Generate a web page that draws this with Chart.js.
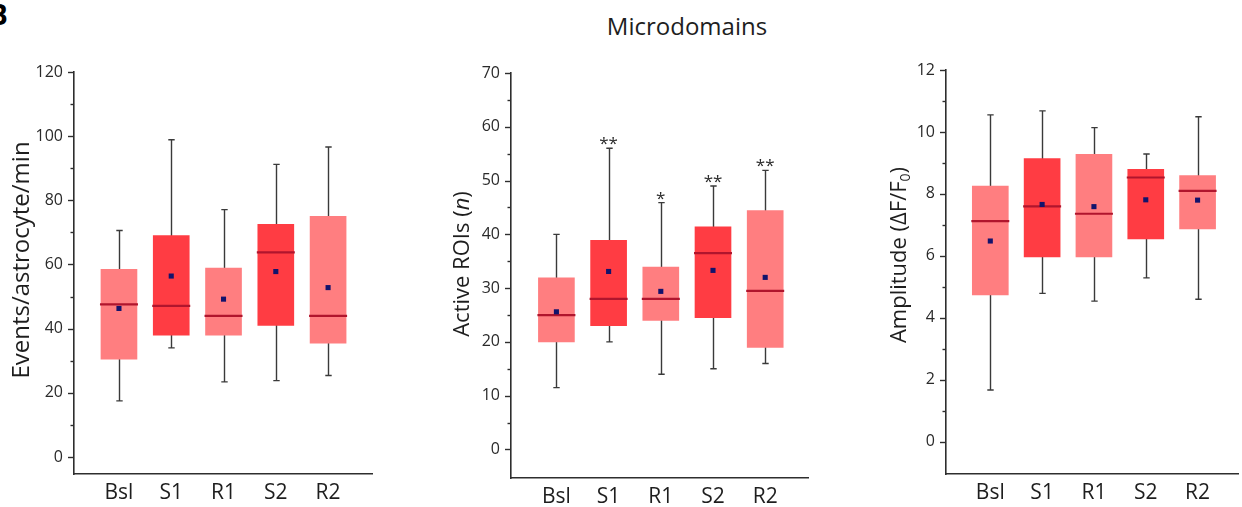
<!DOCTYPE html>
<html>
<head>
<meta charset="utf-8">
<script src="https://cdn.jsdelivr.net/npm/chart.js@4.4.1/dist/chart.umd.min.js"></script>
<style>
  html, body { margin:0; padding:0; background:#fff; width:1242px; height:507px; overflow:hidden; position:relative; font-family:'Open Sans', sans-serif; }
  .panel { position:absolute; }
  #figTitle { position:absolute; left:487px; width:400px; top:14px; text-align:center; font-size:24px; line-height:24px; color:#1e1e1e; }
  #letter { position:absolute; left:-11px; top:0px; font-weight:bold; font-size:28px; line-height:28px; color:#000; }
</style>
</head>
<body>
<div id="letter">B</div>
<div id="figTitle">Microdomains</div>
<div class="panel" style="left:0px;top:40px;width:380px;height:467px"><canvas id="c1" width="380" height="467"></canvas></div>
<div class="panel" style="left:420px;top:40px;width:395px;height:467px"><canvas id="c2" width="395" height="467"></canvas></div>
<div class="panel" style="left:830px;top:40px;width:412px;height:467px"><canvas id="c3" width="412" height="467"></canvas></div>
<script>
// ---------- data ----------
const categories = ['Bsl', 'S1', 'R1', 'S2', 'R2'];

// Panel 1: Events/astrocyte/min
const eventsWhiskerLow  = [17.5, 34.0, 23.4, 23.8, 25.4];
const eventsQ1          = [30.5, 38.0, 38.0, 41.0, 35.5];
const eventsMedian      = [47.6, 47.1, 44.0, 63.8, 44.0];
const eventsQ3          = [58.5, 69.0, 58.9, 72.5, 75.0];
const eventsWhiskerHigh = [70.6, 98.9, 77.1, 91.2, 96.6];
const eventsMean        = [46.3, 56.4, 49.2, 57.8, 52.8];
const eventsTicks       = [0, 20, 40, 60, 80, 100, 120];

// Panel 2: Active ROIs (n)
const roisWhiskerLow  = [11.5, 20.0, 14.0, 15.0, 16.0];
const roisQ1          = [20.0, 23.0, 24.0, 24.5, 19.0];
const roisMedian      = [25.0, 28.0, 28.0, 36.5, 29.5];
const roisQ3          = [31.9, 38.9, 33.9, 41.4, 44.4];
const roisWhiskerHigh = [40.0, 56.0, 45.9, 49.0, 51.9];
const roisMean        = [25.6, 33.1, 29.4, 33.3, 32.0];
const roisSignificance = ['', '**', '*', '**', '**'];
const roisTicks       = [0, 10, 20, 30, 40, 50, 60, 70];

// Panel 3: Amplitude (dF/F0)
const ampWhiskerLow  = [1.67, 4.79, 4.54, 5.29, 4.60];
const ampQ1          = [4.74, 5.97, 5.97, 6.55, 6.87];
const ampMedian      = [7.12, 7.60, 7.36, 8.53, 8.10];
const ampQ3          = [8.25, 9.14, 9.28, 8.79, 8.59];
const ampWhiskerHigh = [10.55, 10.68, 10.14, 9.29, 10.49];
const ampMean        = [6.48, 7.66, 7.59, 7.81, 7.80];
const ampTicks       = [0, 2, 4, 6, 8, 10, 12];

// ---------- styles ----------
const LIGHT = '#FF7E80', DARK = '#FF3C43';
const boxColors = [LIGHT, DARK, LIGHT, DARK, LIGHT];
const MEDIAN_COLOR = '#B0152D';
const MEAN_COLOR = '#13136C';
const AXIS_COLOR = '#2e2e2e';
const FONT = "'Open Sans', sans-serif";

function boxPlugin(p) {
  return {
    id: 'boxExtras',
    beforeDatasetsDraw(chart) {
      const { ctx, scales: { x, y } } = chart;
      ctx.save();
      ctx.strokeStyle = '#3a3a3a';
      ctx.lineWidth = 1.4;
      categories.forEach((c, i) => {
        const px = Math.round(x.getPixelForValue(i)) + 0.5;
        const yLo = y.getPixelForValue(p.low[i]);
        const yHi = y.getPixelForValue(p.high[i]);
        ctx.beginPath();
        ctx.moveTo(px, yHi); ctx.lineTo(px, yLo);
        ctx.moveTo(px - 3.2, yHi); ctx.lineTo(px + 3.2, yHi);
        ctx.moveTo(px - 3.2, yLo); ctx.lineTo(px + 3.2, yLo);
        ctx.stroke();
      });
      ctx.restore();
    },
    afterDatasetDraw(chart, args) {
      if (args.meta.type !== 'bar') return;
      const { ctx, scales: { y } } = chart;
      ctx.save();
      ctx.strokeStyle = MEDIAN_COLOR;
      ctx.lineWidth = 2.2;
      args.meta.data.forEach((bar, i) => {
        const py = y.getPixelForValue(p.median[i]);
        ctx.beginPath();
        ctx.moveTo(bar.x - bar.width / 2 - 1, py);
        ctx.lineTo(bar.x + bar.width / 2 + 1, py);
        ctx.stroke();
      });
      ctx.restore();
    },
    afterDraw(chart) {
      const { ctx, chartArea, scales: { x, y } } = chart;
      ctx.save();
      // major + minor ticks on y axis
      ctx.strokeStyle = AXIS_COLOR;
      ctx.lineWidth = 1.4;
      const left = chartArea.left;
      const lo = p.ticks[0], hi = p.ticks[p.ticks.length - 1];
      const minorStep = (p.ticks[1] - p.ticks[0]) / 2;
      for (let k = 0; lo + k * minorStep <= hi + 1e-9; k++) {
        const v = lo + k * minorStep;
        const py = Math.round(y.getPixelForValue(v)) + 0.5;
        const len = (k % 2 === 0) ? 6 : 3.5;
        ctx.beginPath();
        ctx.moveTo(left - len, py); ctx.lineTo(left, py);
        ctx.stroke();
      }
      // significance stars
      if (p.sig) {
        ctx.fillStyle = '#2a2a2a';
        ctx.font = '17px ' + FONT;
        ctx.textAlign = 'center';
        ctx.textBaseline = 'alphabetic';
        p.sig.forEach((s, i) => {
          if (!s) return;
          ctx.fillText(s, x.getPixelForValue(i), y.getPixelForValue(p.high[i]) + 1);
        });
      }
      // rotated y-axis title with rich segments
      ctx.translate(p.titlePos[0], p.titlePos[1]);
      ctx.rotate(-Math.PI / 2);
      ctx.fillStyle = '#1e1e1e';
      ctx.textBaseline = 'middle';
      ctx.textAlign = 'left';
      const fontFor = seg => (seg.italic ? 'italic ' : '') + (seg.sub ? Math.round(p.titleSize * 0.62) : p.titleSize) + 'px ' + FONT;
      let total = 0;
      p.title.forEach(seg => { ctx.font = fontFor(seg); total += ctx.measureText(seg.t).width; });
      let cx = -total / 2;
      p.title.forEach(seg => {
        ctx.font = fontFor(seg);
        ctx.fillText(seg.t, cx, seg.sub ? p.titleSize * 0.28 : 0);
        cx += ctx.measureText(seg.t).width;
      });
      ctx.restore();
    }
  };
}

function makePanel(id, p) {
  const ctx = document.getElementById(id).getContext('2d');
  return new Chart(ctx, {
    type: 'bar',
    data: {
      datasets: [
        {
          type: 'scatter',
          label: 'Mean',
          data: categories.map((c, i) => ({ x: i, y: p.mean[i] })),
          pointStyle: 'rect',
          pointRadius: 3.6,
          backgroundColor: MEAN_COLOR,
          borderColor: MEAN_COLOR,
          borderWidth: 0
        },
        {
          type: 'bar',
          label: 'IQR',
          data: categories.map((c, i) => ({ x: i, y: [p.q1[i], p.q3[i]] })),
          backgroundColor: boxColors,
          borderWidth: 0,
          barThickness: 36
        }
      ]
    },
    options: {
      responsive: false,
      animation: false,
      devicePixelRatio: 1,
      layout: { padding: { top: p.padTop, right: p.padRight, left: 0, bottom: 0 } },
      plugins: { legend: { display: false }, tooltip: { enabled: false }, title: { display: false } },
      scales: {
        x: {
          type: 'linear',
          min: p.xMin, max: p.xMax,
          offset: false,
          grid: { display: false, drawTicks: false },
          border: { display: true, color: AXIS_COLOR, width: 1.6 },
          ticks: {
            font: { family: FONT, size: 21 }, color: '#1e1e1e', padding: 6,
            autoSkip: false, maxRotation: 0,
            callback: v => categories[v]
          },
          afterBuildTicks: s => { s.ticks = categories.map((c, i) => ({ value: i })); },
          afterFit: s => { s.height = p.xAxisH; }
        },
        y: {
          type: 'linear',
          min: p.yMin, max: p.yMax,
          grid: { display: false, drawTicks: false },
          border: { display: true, color: AXIS_COLOR, width: 1.6 },
          ticks: { font: { family: FONT, size: 16 }, color: '#2a2a2a', padding: 11 },
          afterBuildTicks: s => { s.ticks = p.ticks.map(v => ({ value: v })); },
          afterFit: s => { s.width = p.yAxisW; }
        }
      }
    },
    plugins: [boxPlugin(p)]
  });
}

makePanel('c1', {
  low: eventsWhiskerLow, q1: eventsQ1, median: eventsMedian, q3: eventsQ3, high: eventsWhiskerHigh, mean: eventsMean,
  ticks: eventsTicks, yMin: -5.3, yMax: 120, xMin: -0.86, xMax: 4.84,
  yAxisW: 74, padTop: 32, padRight: 8, xAxisH: 33,
  title: [{ t: 'Events/astrocyte/min' }], titleSize: 24, titlePos: [22, 220]
});
makePanel('c2', {
  low: roisWhiskerLow, q1: roisQ1, median: roisMedian, q3: roisQ3, high: roisWhiskerHigh, mean: roisMean,
  sig: roisSignificance,
  ticks: roisTicks, yMin: -5.3, yMax: 70, xMin: -0.87, xMax: 4.82,
  yAxisW: 91, padTop: 33, padRight: 7, xAxisH: 29,
  title: [{ t: 'Active ROIs (' }, { t: 'n', italic: true }, { t: ')' }], titleSize: 22, titlePos: [43, 224]
});
makePanel('c3', {
  low: ampWhiskerLow, q1: ampQ1, median: ampMedian, q3: ampQ3, high: ampWhiskerHigh, mean: ampMean,
  ticks: ampTicks, yMin: -1.04, yMax: 12, xMin: -0.855, xMax: 4.78,
  yAxisW: 116, padTop: 30, padRight: 0, xAxisH: 33,
  title: [{ t: 'Amplitude (ΔF/F' }, { t: '0', sub: true }, { t: ')' }], titleSize: 22, titlePos: [70, 215]
});
</script>
</body>
</html>
